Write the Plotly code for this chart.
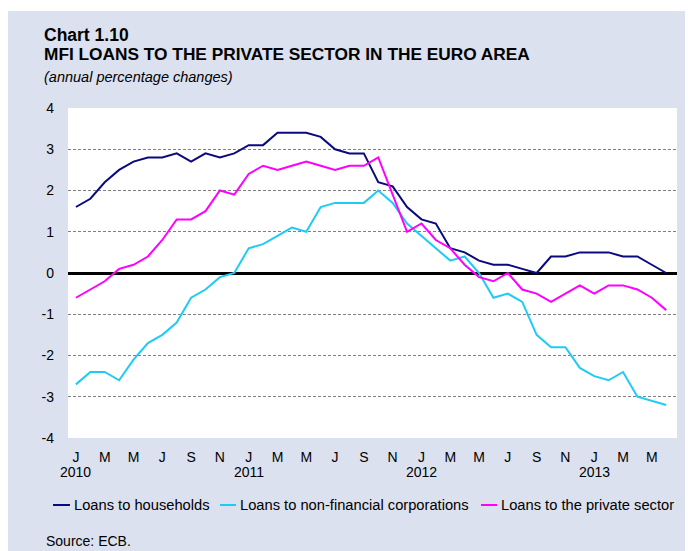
import plotly.graph_objects as go

# ---- data (monthly, Jan 2010 - Jun 2013) ----
months = list(range(42))
households = [1.6, 1.8, 2.2, 2.5, 2.7, 2.8, 2.8, 2.9, 2.7, 2.9, 2.8, 2.9,
              3.1, 3.1, 3.4, 3.4, 3.4, 3.3, 3.0, 2.9, 2.9, 2.2, 2.1, 1.6,
              1.3, 1.2, 0.6, 0.5, 0.3, 0.2, 0.2, 0.1, 0.0, 0.4, 0.4, 0.5,
              0.5, 0.5, 0.4, 0.4, 0.2, 0.0]
nfc = [-2.7, -2.4, -2.4, -2.6, -2.1, -1.7, -1.5, -1.2, -0.6, -0.4, -0.1, 0.0,
       0.6, 0.7, 0.9, 1.1, 1.0, 1.6, 1.7, 1.7, 1.7, 2.0, 1.7, 1.2,
       0.9, 0.6, 0.3, 0.4, 0.0, -0.6, -0.5, -0.7, -1.5, -1.8, -1.8, -2.3,
       -2.5, -2.6, -2.4, -3.0, -3.1, -3.2]
private = [-0.6, -0.4, -0.2, 0.1, 0.2, 0.4, 0.8, 1.3, 1.3, 1.5, 2.0, 1.9,
           2.4, 2.6, 2.5, 2.6, 2.7, 2.6, 2.5, 2.6, 2.6, 2.8, 1.9, 1.0,
           1.2, 0.8, 0.6, 0.2, -0.1, -0.2, 0.0, -0.4, -0.5, -0.7, -0.5, -0.3,
           -0.5, -0.3, -0.3, -0.4, -0.6, -0.9]
series_names = ["Loans to households", "Loans to non-financial corporations",
                "Loans to the private sector"]
tick_positions = list(range(0, 42, 2))
tick_labels = ["J", "M", "M", "J", "S", "N",
               "J", "M", "M", "J", "S", "N",
               "J", "M", "M", "J", "S", "N",
               "J", "M", "M"]
year_positions = [0, 12, 24, 36]
year_labels = ["2010", "2011", "2012", "2013"]
y_ticks = [-4, -3, -2, -1, 0, 1, 2, 3, 4]
y_tick_labels = ["-4", "-3", "-2", "-1", "0", "1", "2", "3", "4"]

colors = ["#0a0a80", "#1ecbf7", "#ff00ff"]
FONT = "Liberation Sans, Arial, sans-serif"

# page offset (default HTML body margin)
OFF = 8
W, H = 693 - OFF, 551 - OFF
L, R, T, B = 68 - OFF, 16, 108 - OFF, 551 - 438
PW, PH = W - L - R, H - T - B


def px(x):  # page x -> paper
    return (x - OFF - L) / PW


def py(y):  # page y -> paper
    return (H - B - (y - OFF)) / PH


fig = go.Figure()
for vals, name, c in zip([households, nfc, private], series_names, colors):
    fig.add_trace(go.Scatter(x=months, y=vals, mode="lines", name=name,
                             line=dict(color=c, width=2), showlegend=False))

shapes = [
    # white strip above the lavender panel
    dict(type="rect", xref="paper", yref="paper", x0=px(0), x1=px(700), y0=py(11), y1=py(0),
         fillcolor="white", line=dict(width=0), layer="below"),
]
annotations = [
    dict(text="<b>Chart 1.10</b>", x=px(42), y=py(35), xref="paper", yref="paper",
         xanchor="left", yanchor="middle", showarrow=False,
         font=dict(family=FONT, size=17.5, color="black")),
    dict(text="<b>MFI LOANS TO THE PRIVATE SECTOR IN THE EURO AREA</b>", x=px(42), y=py(53.5),
         xref="paper", yref="paper", xanchor="left", yanchor="middle", showarrow=False,
         font=dict(family=FONT, size=17.3, color="black")),
    dict(text="<i>(annual percentage changes)</i>", x=px(42), y=py(76.5), xref="paper", yref="paper",
         xanchor="left", yanchor="middle", showarrow=False,
         font=dict(family=FONT, size=14.5, color="black")),
    dict(text="Source: ECB.", x=px(44), y=py(541), xref="paper", yref="paper",
         xanchor="left", yanchor="middle", showarrow=False,
         font=dict(family=FONT, size=14, color="black")),
]
for xv, yl in zip(year_positions, year_labels):
    annotations.append(dict(text=yl, x=xv, y=py(471.5), xref="x", yref="paper",
                            xanchor="center", yanchor="middle", showarrow=False,
                            font=dict(family=FONT, size=14, color="black")))

# manual legend
leg_y = 505
leg_items = [(53, 70, 72), (220, 236, 238), (481, 497, 499)]
for (lx0, lx1, tx), name, c in zip(leg_items, series_names, colors):
    shapes.append(dict(type="line", xref="paper", yref="paper", x0=px(lx0), x1=px(lx1),
                       y0=py(leg_y), y1=py(leg_y), line=dict(color=c, width=2)))
    annotations.append(dict(text=name, x=px(tx), y=py(leg_y), xref="paper", yref="paper",
                            xanchor="left", yanchor="middle", showarrow=False,
                            font=dict(family=FONT, size=14.7, color="black")))

fig.update_layout(
    width=W, height=H,
    margin=dict(l=L, r=R, t=T, b=B, pad=0),
    paper_bgcolor="#dbe1ee",
    plot_bgcolor="white",
    font=dict(family=FONT, size=14, color="black"),
    shapes=shapes,
    annotations=annotations,
    xaxis=dict(range=[-0.55, 41.75], tickmode="array", tickvals=tick_positions,
               ticktext=tick_labels, showgrid=False, zeroline=False, showline=False,
               ticks="", ticklabelstandoff=9, tickfont=dict(size=14)),
    yaxis=dict(range=[-4, 4], tickmode="array", tickvals=y_ticks, ticktext=y_tick_labels,
               showgrid=True, gridcolor="#808080", griddash="3px,2px", gridwidth=1,
               zeroline=True, zerolinecolor="black", zerolinewidth=2.5,
               showline=False, ticks="", ticklabelstandoff=13, tickfont=dict(size=14)),
)

fig.write_html("out.html")
